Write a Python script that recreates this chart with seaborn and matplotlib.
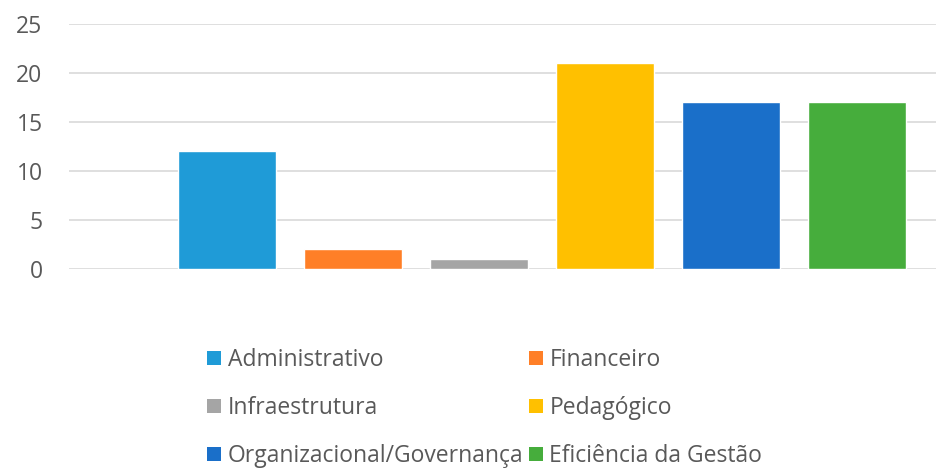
import matplotlib
matplotlib.use("Agg")
import matplotlib.pyplot as plt
import seaborn as sns
import pandas as pd
from matplotlib.patches import Patch

categories = ["Administrativo", "Financeiro", "Infraestrutura", "Pedagógico",
              "Organizacional/Governança", "Eficiência da Gestão"]
values = [12, 2, 1, 21, 17, 17]
colors = ["#1F9BD7", "#FF7F27", "#A5A5A5", "#FFC000", "#1A6FC9", "#46AD3C"]
yticks = [0, 5, 10, 15, 20, 25]

sns.set_theme(style="white")
plt.rcParams['font.family'] = ['Open Sans', 'DejaVu Sans']

df = pd.DataFrame({"cat": categories, "val": values})

fig = plt.figure(figsize=(9.37, 4.70), dpi=100)
ax = fig.add_axes([69/937, 1 - 268.7/470, (937-69)/937, (268.7-24)/470])

sns.barplot(data=df, x="cat", y="val", hue="cat", palette=colors, order=categories,
            hue_order=categories, width=0.778, dodge=False, legend=False, ax=ax,
            saturation=1)

ax.set_xlim((69-227)/126, (937-227)/126)
ax.set_ylim(0, 25)
ax.set_yticks(yticks)
ax.set_yticklabels([str(t) for t in yticks], fontsize=16.5, color="#595959")
ax.set_xticks([])
ax.set_xlabel("")
ax.set_ylabel("")
ax.yaxis.grid(True, color="#D9D9D9", linewidth=1.2)
ax.set_axisbelow(True)
for s in ax.spines.values():
    s.set_visible(False)
ax.tick_params(axis="y", length=0, pad=19)

order = [0, 2, 4, 1, 3, 5]
handles = [Patch(facecolor=colors[i], edgecolor="none", label=categories[i]) for i in order]
fig.legend(handles=handles, ncol=2, loc="upper left", bbox_to_anchor=(200/937, 1 - 341/470),
           frameon=False, fontsize=16.5, labelcolor="#595959",
           handlelength=0.6, handleheight=0.6, handletextpad=0.3,
           columnspacing=0.25, labelspacing=1.05, borderaxespad=0, borderpad=0.3)

fig.savefig("out.png", dpi=100)
